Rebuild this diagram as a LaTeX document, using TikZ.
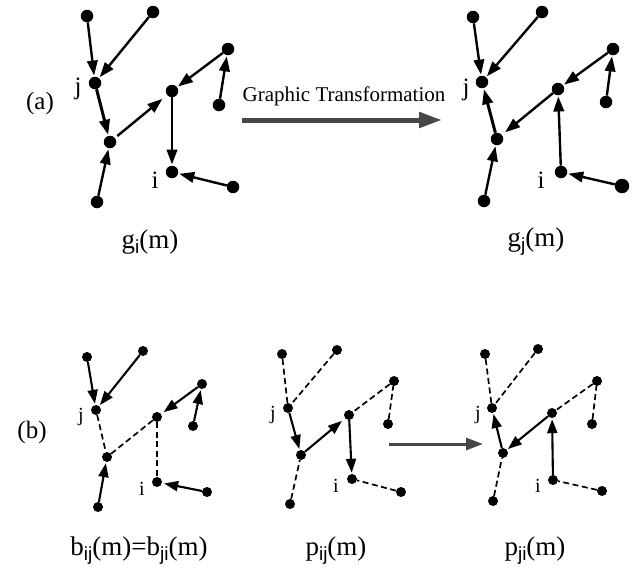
\documentclass[tikz,border=0pt]{standalone}
\usepackage{fontspec}
\setmainfont{Liberation Serif}
\newfontfamily\subsans{Liberation Sans}
\usetikzlibrary{arrows.meta}
\tikzset{dot/.style={circle,fill=black,inner sep=0pt,minimum size=12.5pt},
  sdot/.style={circle,fill=black,inner sep=0pt,minimum size=10pt},
  arr/.style={-{Triangle[length=15pt,width=10.5pt]},line width=2.4pt,shorten >=1pt},
  sarr/.style={-{Triangle[length=14pt,width=10pt]},line width=2.1pt,shorten >=1pt},
  dsh/.style={line width=1.7pt,dash pattern=on 6pt off 3.5pt},
  capt/.style={font=\fontsize{27}{30}\selectfont},
  lblA/.style={font=\fontsize{25}{28}\selectfont},
  lblB/.style={font=\fontsize{20}{22}\selectfont}}
\newcommand{\sbs}[1]{\raisebox{-5pt}{\fontsize{19}{20}\subsans\selectfont #1}}

\begin{document}
\begin{tikzpicture}[x=1pt,y=-1pt,line join=round]
\useasboundingbox (0,0) rectangle (634,571);
% --- (a) left tree g_i(m)
\node[dot] (a1A) at (87,16) {};  \node[dot] (a1B) at (153,12) {};
\node[dot] (a1J) at (95,83) {};  \node[dot] (a1M) at (110,142) {};
\node[dot] (a1L) at (97,202) {}; \node[dot] (a1C) at (172,91) {};
\node[dot] (a1R) at (228,49) {}; \node[dot] (a1S) at (219,105) {};
\node[dot] (a1I) at (172,172) {};\node[dot] (a1T) at (233,187) {};
\draw[arr] (a1A) -- (a1J); \draw[arr] (a1B) -- (a1J);
\draw[arr,line width=3pt] (a1J) -- (a1M); \draw[arr,shorten >=6pt,shorten <=3pt] (a1M) -- (a1C);
\draw[arr] (a1L) -- (a1M); \draw[arr] (a1R) -- (a1C);
\draw[arr] (a1S) -- (a1R); \draw[arr] (a1C) -- (a1I);
\draw[arr] (a1T) -- (a1I);
\node[lblA] (a1j) at (78,89) {j};
\node[lblA] (a1i) at (155,180) {i};
\node[lblA] (alab) at (40,103) {(a)};
\node[capt] (a1cap) at (150,242) {g\sbs{i}(m)};
% --- transformation arrow
\coordinate (tS) at (242,120); \coordinate (tE) at (442,120);
\draw[black!72,line width=5pt,-{Triangle[length=23pt,width=15pt]}] (tS) -- (tE);
\node[font=\fontsize{21}{24}\selectfont] (tlab) at (344,96) {Graphic Transformation};
% --- (a) right tree g_j(m)
\node[dot] (a2A) at (473,17) {};  \node[dot] (a2B) at (542,12) {};
\node[dot] (a2J) at (482,82) {};  \node[dot] (a2M) at (497,139) {};
\node[dot] (a2L) at (484,201) {}; \node[dot] (a2C) at (558,89) {};
\node[dot] (a2R) at (613,49) {};  \node[dot] (a2S) at (606,102) {};
\node[dot] (a2I) at (561,172) {}; \node[dot,minimum size=14.5pt] (a2T) at (622,186) {};
\draw[arr] (a2A) -- (a2J); \draw[arr] (a2B) -- (a2J);
\draw[arr,line width=3pt] (a2M) -- (a2J); \draw[arr,shorten >=4pt] (a2C) -- (a2M);
\draw[arr] (a2L) -- (a2M); \draw[arr] (a2R) -- (a2C);
\draw[arr] (a2S) -- (a2R); \draw[arr] (a2I) -- (a2C);
\draw[arr] (a2T) -- (a2I);
\node[lblA] (a2j) at (466,90) {j};
\node[lblA] (a2i) at (541,180) {i};
\node[capt] (a2cap) at (536,242) {g\sbs{j}(m)};
% --- (b) left tree b_ij(m)=b_ji(m)
\node[sdot] (b1A) at (87,357) {};  \node[sdot] (b1B) at (143,351) {};
\node[sdot] (b1J) at (96,410) {};  \node[sdot,minimum width=10pt,minimum height=8pt] (b1M) at (107,457) {};
\node[sdot] (b1L) at (98,507) {};  \node[sdot] (b1C) at (157,417) {};
\node[sdot] (b1R) at (202,384) {}; \node[sdot] (b1S) at (193,426) {};
\node[sdot] (b1I) at (157,482) {}; \node[sdot] (b1T) at (207,492) {};
\draw[sarr] (b1A) -- (b1J); \draw[sarr] (b1B) -- (b1J);
\draw[dsh] (b1J) -- (b1M); \draw[dsh] (b1M) -- (b1C);
\draw[sarr] (b1L) -- (b1M); \draw[sarr,shorten >=3pt] (b1R) -- (b1C);
\draw[sarr] (b1S) -- (b1R); \draw[dsh] (b1C) -- (b1I);
\draw[sarr,shorten >=2pt] (b1T) -- (b1I);
\node[lblB] (b1j) at (81,417) {j};
\node[lblB] (b1i) at (142,489) {i};
\node[lblA] (blab) at (32,432) {(b)};
\node[capt] (b1cap) at (139,551) {b\sbs{ij}(m)=b\sbs{ji}(m)};
% --- (b) middle tree p_ij(m)
\node[sdot] (b2A) at (282,354) {};  \node[sdot] (b2B) at (337,350) {};
\node[sdot] (b2J) at (288,408) {};  \node[sdot] (b2M) at (301,455) {};
\node[sdot] (b2L) at (290,504) {};  \node[sdot] (b2C) at (349,415) {};
\node[sdot] (b2R) at (394,381) {};  \node[sdot] (b2S) at (388,424) {};
\node[sdot] (b2I) at (352,479) {};  \node[sdot] (b2T) at (401,492) {};
\draw[dsh] (b2A) -- (b2J); \draw[dsh] (b2B) -- (b2J);
\draw[sarr] (b2J) -- (b2M); \draw[sarr,shorten >=4pt] (b2M) -- (b2C);
\draw[dsh] (b2L) -- (b2M); \draw[dsh] (b2R) -- (b2C);
\draw[dsh] (b2S) -- (b2R); \draw[sarr] (b2C) -- (b2I);
\draw[dsh] (b2T) -- (b2I);
\node[lblB] (b2j) at (273,415) {j};
\node[lblB] (b2i) at (336,486) {i};
\node[capt] (b2cap) at (336,551) {p\sbs{ij}(m)};
% --- small arrow
\coordinate (uS) at (389,444); \coordinate (uE) at (483,444);
\draw[black!72,line width=3pt,-{Triangle[length=17pt,width=12pt]}] (uS) -- (uE);
% --- (b) right tree p_ji(m)
\node[sdot] (b3A) at (485,354) {};  \node[sdot] (b3B) at (538,349) {};
\node[sdot] (b3J) at (492,408) {};  \node[sdot] (b3M) at (503,453) {};
\node[sdot] (b3L) at (493,501) {};  \node[sdot,minimum width=8pt,minimum height=10pt] (b3C) at (552,413) {};
\node[sdot] (b3R) at (597,381) {};  \node[sdot] (b3S) at (592,424) {};
\node[sdot] (b3I) at (553,480) {};  \node[sdot] (b3T) at (602,491) {};
\draw[dsh] (b3A) -- (b3J); \draw[dsh] (b3B) -- (b3J);
\draw[sarr] (b3M) -- (b3J); \draw[sarr] (b3C) -- (b3M);
\draw[dsh] (b3L) -- (b3M); \draw[dsh] (b3R) -- (b3C);
\draw[dsh] (b3S) -- (b3R); \draw[sarr] (b3I) -- (b3C);
\draw[dsh] (b3T) -- (b3I);
\node[lblB] (b3j) at (478,415) {j};
\node[lblB] (b3i) at (538,486) {i};
\node[capt] (b3cap) at (535,551) {p\sbs{ji}(m)};
\end{tikzpicture}
\end{document}
